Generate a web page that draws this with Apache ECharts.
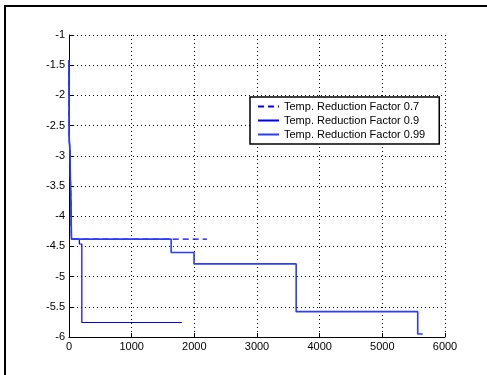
<!DOCTYPE html>
<html><head><meta charset="utf-8">
<script src="https://cdn.jsdelivr.net/npm/echarts@6/dist/echarts.min.js"></script>
<style>html,body{margin:0;padding:0;background:#fff}#c{width:487px;height:375px}</style>
</head><body><div id="c"></div>
<script>
const seriesNames = ['Temp. Reduction Factor 0.7', 'Temp. Reduction Factor 0.9', 'Temp. Reduction Factor 0.99'];
const x07 = [0, 3, 15, 40, 40, 2200];
const y07 = [-1.42, -2.7, -2.93, -2.93, -4.38, -4.38];
const x09 = [0, 3, 15, 40, 40, 165, 165, 205, 205, 1800];
const y09 = [-1.42, -2.7, -2.93, -2.93, -4.38, -4.38, -4.46, -4.46, -5.76, -5.76];
const x099 = [0, 3, 15, 40, 40, 1630, 1630, 1995, 1995, 3625, 3625, 5565, 5565, 5645];
const y099 = [-1.42, -2.7, -2.93, -2.93, -4.38, -4.38, -4.6, -4.6, -4.79, -4.79, -5.58, -5.58, -5.95, -5.95];
const xTicks = [0, 1000, 2000, 3000, 4000, 5000, 6000];
const yTicks = [-6, -5.5, -5, -4.5, -4, -3.5, -3, -2.5, -2, -1.5, -1];

const zip = (xs, ys) => xs.map((x, i) => [x, ys[i]]);
const font = 'Liberation Sans, Arial, Helvetica, sans-serif';
const chart = echarts.init(document.getElementById('c'), null, {renderer: 'canvas'});
chart.setOption({
  animation: false,
  backgroundColor: '#fff',
  textStyle: {fontFamily: font},
  graphic: [{
    type: 'rect', shape: {x: 5, y: 6, width: 600, height: 500},
    style: {fill: 'none', stroke: '#000', lineWidth: 2}, silent: true, z: 100
  }],
  grid: {left: 69, top: 35, width: 376, height: 302, containLabel: false},
  legend: {
    left: 250, top: 97, orient: 'vertical',
    backgroundColor: '#fff', borderColor: '#000', borderWidth: 1.5,
    padding: [4, 14, 4, 7], itemWidth: 21, itemHeight: 10, itemGap: 3,
    itemStyle: {opacity: 0},
    textStyle: {fontSize: 11, color: '#000', fontFamily: font},
    data: seriesNames
  },
  xAxis: {
    type: 'value', min: xTicks[0], max: xTicks[xTicks.length - 1], interval: 1000,
    axisLine: {show: true, onZero: false, lineStyle: {color: '#000', width: 1}},
    axisTick: {show: true, inside: true, length: 4, lineStyle: {color: '#000'}},
    axisLabel: {color: '#000', fontSize: 11, margin: 4, fontFamily: font, formatter: v => String(v)},
    splitLine: {show: true, lineStyle: {color: '#000', type: [1, 3], width: 1}}
  },
  yAxis: {
    type: 'value', min: yTicks[0], max: yTicks[yTicks.length - 1], interval: 0.5,
    axisLine: {show: true, onZero: false, lineStyle: {color: '#000', width: 1}},
    axisTick: {show: true, inside: true, length: 4, lineStyle: {color: '#000'}},
    axisLabel: {color: '#000', fontSize: 11, margin: 4, fontFamily: font, formatter: v => String(v)},
    splitLine: {show: true, lineStyle: {color: '#000', type: [1, 3], width: 1}}
  },
  series: [
    {name: seriesNames[0], type: 'line', symbol: 'none', data: zip(x07, y07),
     lineStyle: {color: '#0000ff', width: 1.2, type: [6, 4]}, itemStyle: {color: '#0000ff'}},
    {name: seriesNames[1], type: 'line', symbol: 'none', data: zip(x09, y09),
     lineStyle: {color: '#0000ff', width: 1.2}, itemStyle: {color: '#0000ff'}},
    {name: seriesNames[2], type: 'line', symbol: 'none', data: zip(x099, y099),
     lineStyle: {color: '#2a3cff', width: 1.6}, itemStyle: {color: '#2a3cff'}}
  ]
});
</script></body></html>
